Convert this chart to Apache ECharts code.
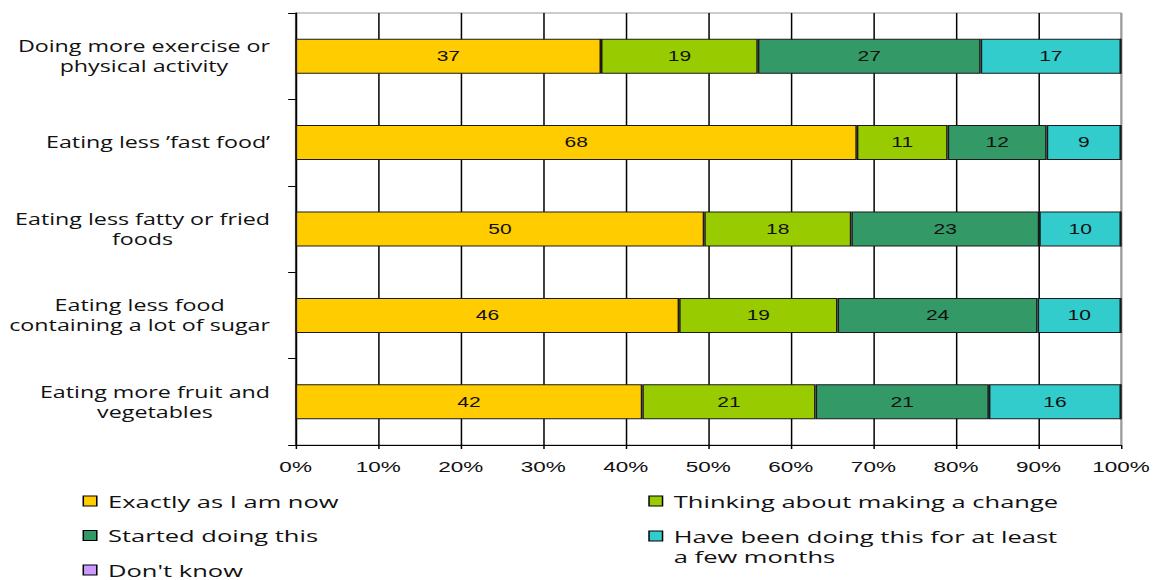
<!DOCTYPE html>
<html>
<head>
<meta charset="utf-8">
<script src="https://cdn.jsdelivr.net/npm/echarts@6/dist/echarts.min.js"></script>
<style>
  html, body { margin: 0; padding: 0; background: #fff; overflow: hidden; }
  #wrap { width: 1160px; height: 580px; overflow: hidden; }
  /* the chart is laid out narrow and widened horizontally */
  #chart { width: 773px; height: 580px; transform-origin: 0 0; }
</style>
</head>
<body>
<div id="wrap"><div id="chart"></div></div>
<script>
// Survey answers per behaviour (percent of respondents)
const categories = [
  'Doing more exercise or\nphysical activity',
  'Eating less \u2019fast food\u2019',
  'Eating less fatty or fried\nfoods',
  'Eating less food\ncontaining a lot of sugar',
  'Eating more fruit and\nvegetables'
];
const seriesNames = [
  'Exactly as I am now',
  'Thinking about making a change',
  'Started doing this',
  'Have been doing this for at least\na few months',
  "Don't know"
];
const exactlyAsNow   = [37, 68, 50, 46, 42];
const thinkingAbout  = [19, 11, 18, 19, 21];
const startedDoing   = [27, 12, 23, 24, 21];
const doingForMonths = [17,  9, 10, 10, 16];
const dontKnow       = [ 0,  0,  0,  0,  0];
const xTickLabels = ['0%', '10%', '20%', '30%', '40%', '50%', '60%', '70%', '80%', '90%', '100%'];

const seriesValues = [exactlyAsNow, thinkingAbout, startedDoing, doingForMonths, dontKnow];
const seriesColors = ['#FFCC00', '#99CC00', '#339966', '#33CCCC', '#CC99FF'];

const WIDE = 1160 / 773;
const chartEl = document.getElementById('chart');
chartEl.style.transform = 'scaleX(' + WIDE + ')';

// each bar is scaled to 100% of its row total
const rowTotals = categories.map((_, i) => seriesValues.reduce((s, arr) => s + arr[i], 0));

const catFont = '"Open Sans"';
const numFont = '"Liberation Sans", Arial, sans-serif';

const series = seriesValues.map((vals, k) => ({
  name: seriesNames[k],
  type: 'bar',
  stack: 'all',
  barWidth: 35,
  data: vals.map((v, i) => v / rowTotals[i] * 100),
  itemStyle: { color: seriesColors[k], borderColor: '#1a1a1a', borderWidth: 1 },
  label: {
    show: k < 4,
    position: 'inside',
    color: '#111',
    fontFamily: numFont,
    fontSize: 14,
    formatter: p => String(vals[p.dataIndex])
  },
  emphasis: { disabled: true },
  animation: false
}));

// vertical gridlines are black, the one on the plot's right edge stays grey
const splitColors = xTickLabels.map((_, i) => (i === xTickLabels.length - 1 ? '#9a9a9a' : '#000'));

const legendText = { color: '#111', fontFamily: catFont, fontSize: 17, lineHeight: 20, padding: [0, 0, 0, 2.5] };
const legendCommon = {
  orient: 'vertical', height: 150, padding: 0,
  itemWidth: 9, itemHeight: 10, itemGap: 14.5,
  itemStyle: { borderColor: '#000', borderWidth: 1 },
  selectedMode: false,
  textStyle: legendText
};

const option = {
  animation: false,
  grid: {
    left: 197, right: 26, top: 13, bottom: 135, containLabel: false,
    show: true, borderColor: '#9a9a9a', borderWidth: 1, backgroundColor: 'transparent'
  },
  xAxis: {
    type: 'value',
    min: 0, max: 100, interval: 10,
    axisLine: { show: true, lineStyle: { color: '#000', width: 1 } },
    axisTick: { show: true, length: 4, lineStyle: { color: '#000' } },
    splitLine: { show: true, lineStyle: { color: splitColors, width: 1 } },
    axisLabel: {
      color: '#111', fontFamily: numFont, fontSize: 15, margin: 14,
      formatter: v => xTickLabels[Math.round(v / 10)]
    }
  },
  yAxis: {
    type: 'category',
    inverse: true,
    data: categories,
    axisLine: { show: true, lineStyle: { color: '#000', width: 1 } },
    axisTick: { show: true, length: 5, lineStyle: { color: '#000' } },
    axisLabel: {
      margin: 17,
      align: 'right',
      color: '#111',
      fontFamily: catFont,
      fontSize: 15.5,
      lineHeight: 20,
      formatter: v => v.split('\n').map(l => '{c|' + l + '}').join('\n'),
      rich: { c: { align: 'center', fontFamily: catFont, fontSize: 15.5, lineHeight: 20, color: '#111' } }
    }
  },
  legend: [
    Object.assign({}, legendCommon, {
      left: 55, top: 491,
      data: [seriesNames[0], seriesNames[2], seriesNames[4]].map(n => ({ name: n, icon: 'rect' }))
    }),
    Object.assign({}, legendCommon, {
      left: 432, top: 491,
      data: [{ name: seriesNames[1], icon: 'rect' }]
    }),
    // two-line entry: a tall swatch whose filled square sits at the top,
    // so the first text line lines up with the square
    Object.assign({}, legendCommon, {
      left: 432, top: 526,
      itemHeight: 30,
      data: [{ name: seriesNames[3], icon: 'path://M0,0H9V10H0Z M0,30L0,30' }]
    })
  ],
  series: series
};

const chart = echarts.init(chartEl, null, { renderer: 'svg' });
chart.setOption(option);
</script>
</body>
</html>
